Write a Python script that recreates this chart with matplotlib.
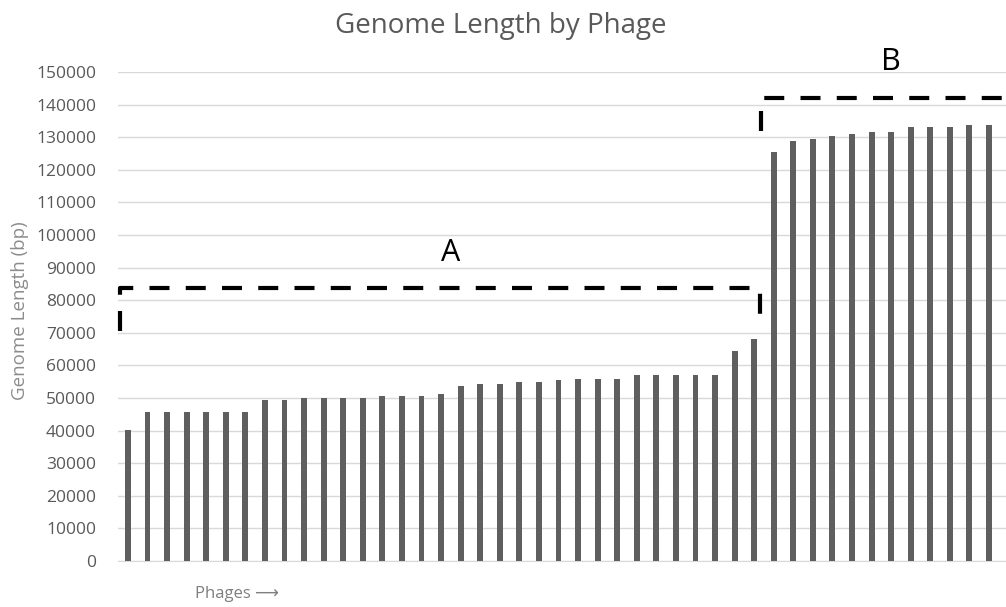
import matplotlib
matplotlib.use('Agg')
import matplotlib.pyplot as plt
import numpy as np

# genome lengths (bp), one bar per phage, sorted ascending
group_a = [40300, 45700, 45700, 45700, 45700, 45700, 45700, 49500, 49500,
           50000, 50000, 50000, 50000, 50500, 50500, 50500, 51100, 53800,
           54400, 54400, 54900, 54900, 55400, 55900, 55900, 55900, 57200,
           57200, 57200, 57200, 57200, 64400, 68200]
group_b = [125600, 128900, 129400, 130400, 130900, 131600, 131600, 133200,
           133200, 133200, 133700, 133700]
lengths = group_a + group_b
y_ticks = list(range(0, 150001, 10000))

plt.rcParams['font.family'] = ['Open Sans', 'DejaVu Sans']

fig = plt.figure(figsize=(10.06, 6.07), dpi=100)
ax = fig.add_axes([0.1175, 0.0758, 0.8825, 0.8056])

x = np.arange(len(lengths))
ax.bar(x, lengths, width=0.3, color='#5f5f5f', zorder=3)

ax.set_xlim(-0.5, 44.87)
ax.set_ylim(0, 150000)
ax.set_yticks(y_ticks)
ax.set_yticklabels([str(v) for v in y_ticks], fontsize=12.5, color='#595959')
ax.set_xticks([])
ax.tick_params(axis='y', length=0, pad=16)
ax.grid(axis='y', color='#d9d9d9', linewidth=1, zorder=0)
for s in ['top', 'right', 'left']:
    ax.spines[s].set_visible(False)
ax.spines['bottom'].set_color('#d9d9d9')

fig.text(0.498, 0.957, 'Genome Length by Phage', fontsize=20, color='#595959',
         ha='center', va='center')
fig.text(0.020, 0.489, 'Genome Length (bp)', rotation=90, fontsize=13.5,
         color='#8c8c8c', ha='center', va='center')
fig.text(0.194, 0.021, 'Phages \u27f6', fontsize=12, color='#7f7f7f',
         ha='left', va='center')

# dashed brackets marking the two groups
dash = dict(color='black', linewidth=3, dashes=(4.8, 3.9),
            solid_joinstyle='round', clip_on=False, zorder=4)
ax.plot([-0.41, -0.41, 32.3, 32.3], [70500, 83700, 83700, 71000], **dash)
ax.plot([32.37, 32.37, 44.87], [132000, 142000, 142000], **dash)
ax.text(16.5, 94500, 'A', fontsize=22, ha='center', va='center')
ax.text(39.0, 153200, 'B', fontsize=22, ha='center', va='center')

plt.savefig('out.png', dpi=100)
